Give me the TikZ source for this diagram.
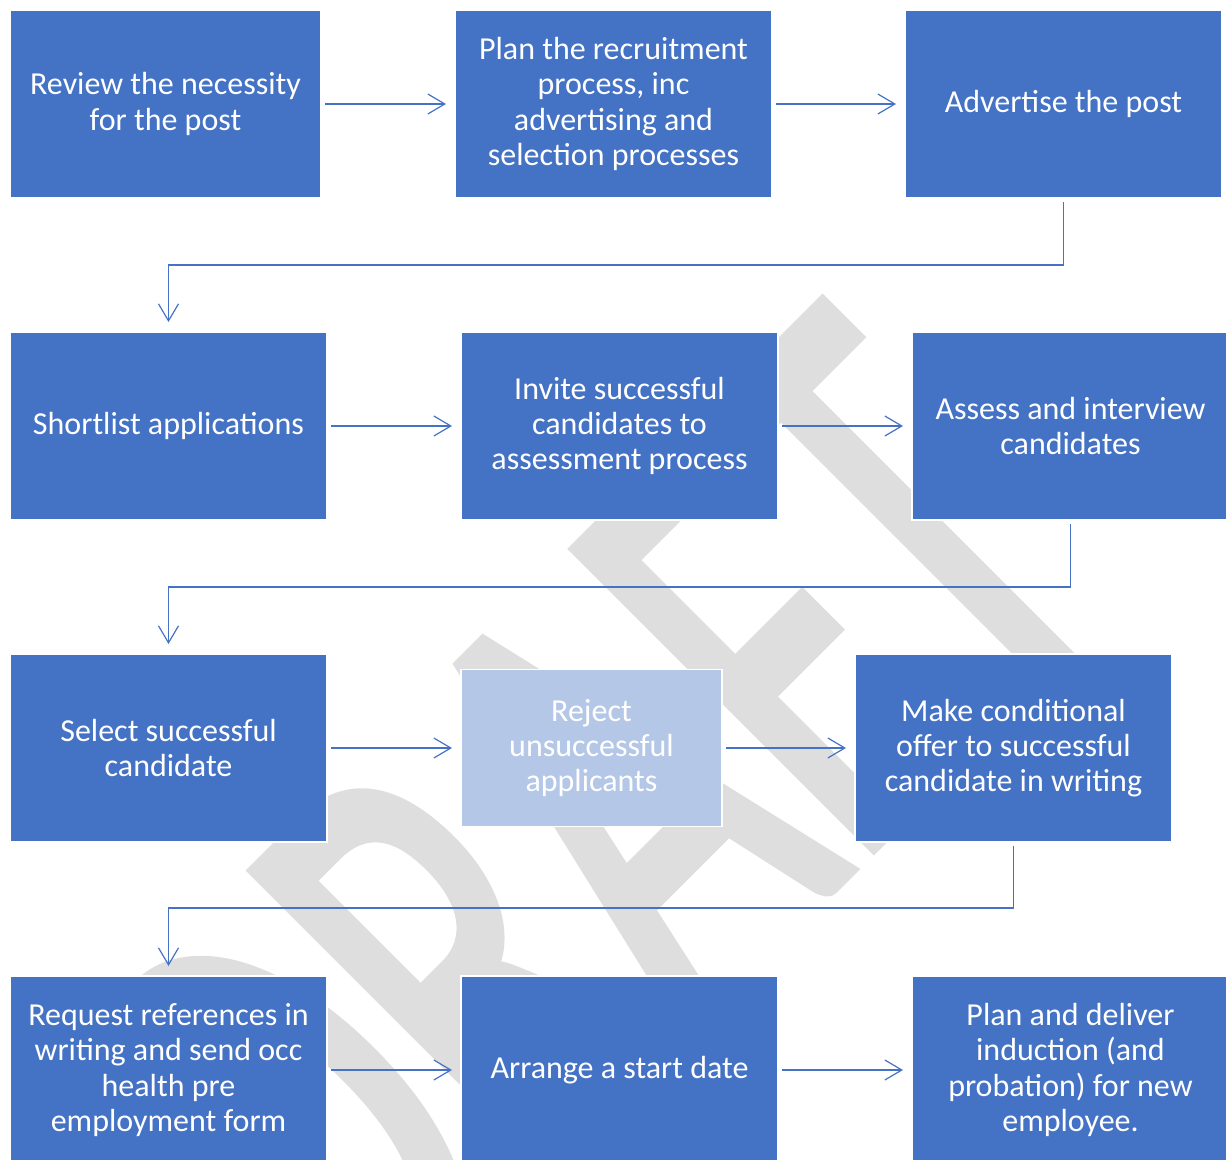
\documentclass[tikz,border=0pt]{standalone}
\usepackage{fontspec}
\setmainfont{Carlito}
\newfontfamily\wmfont[FakeBold=2]{Carlito}
\usetikzlibrary{arrows.meta, positioning}
\definecolor{boxblue}{RGB}{68,114,196}
\definecolor{paleblue}{RGB}{180,199,231}
\definecolor{wmgrey}{RGB}{222,222,222}

\begin{document}
\begin{tikzpicture}[
  node distance=67pt,
  box/.style={draw=white, line width=0.75pt, fill=boxblue, text=white, align=center, inner sep=2pt, outer sep=0pt,
    minimum width=158.5pt, minimum height=94pt, font=\fontsize{16}{17.6}\selectfont},
  pale/.style={box, fill=paleblue, minimum width=130.5pt, minimum height=78.5pt},
  watermark/.style={text=wmgrey, rotate=45, yscale=1.61, anchor=base west, inner sep=0pt, font=\wmfont\fontsize{203.5}{203.5}\selectfont},
  arr/.style={-{Straight Barb[length=8.5pt, width=10pt]}, draw=boxblue, line width=0.6pt, shorten <=2pt, shorten >=4.5pt}
]
\useasboundingbox (0,0) rectangle (613pt,-580pt);
\clip (0,0) rectangle (613pt,-580pt);
\node[watermark] (draft) at (176.25pt,-683.75pt) {DRAFT};

\node[box, minimum width=155.5pt, anchor=north west] (review) at (5pt,-5pt) {Review the necessity\\for the post};
\node[box, right=of review] (plan) {Plan the recruitment\\process, inc\\advertising and\\selection processes};
\node[box, right=66.5pt of plan] (advert) {Advertise the post};

\node[box, below=of review.south west, anchor=north west] (shortlist) {Shortlist applications};
\node[box, right=of shortlist] (invite) {Invite successful\\candidates to\\assessment process};
\node[box, right=of invite] (assess) {Assess and interview\\candidates};

\node[box, below=of shortlist.south west, anchor=north west] (select) {Select successful\\candidate};
\node[pale, right=of select] (reject) {Reject\\unsuccessful\\applicants};
\node[box, right=66.5pt of reject] (offer) {Make conditional\\offer to successful\\candidate in writing};

\node[box, below=of select.south west, anchor=north west] (refs) {Request references in\\writing and send occ\\health pre\\employment form};
\node[box, right=of refs] (start) {Arrange a start date};
\node[box, right=of start] (induct) {Plan and deliver\\induction (and\\probation) for new\\employee.};

\draw[arr] (review) -- (plan);
\draw[arr] (plan) -- (advert);
\draw[arr, shorten >=5pt] (advert.south) -- ++(0,-33.5pt) -| (shortlist.north);
\draw[arr] (shortlist) -- (invite);
\draw[arr] (invite) -- (assess);
\draw[arr, shorten >=5pt] (assess.south) -- ++(0,-33.5pt) -| (select.north);
\draw[arr] (select) -- (reject);
\draw[arr] (reject) -- (offer);
\draw[arr, shorten >=5pt] (offer.south) -- ++(0,-33pt) -| (refs.north);
\draw[arr] (refs) -- (start);
\draw[arr] (start) -- (induct);
\end{tikzpicture}
\end{document}
